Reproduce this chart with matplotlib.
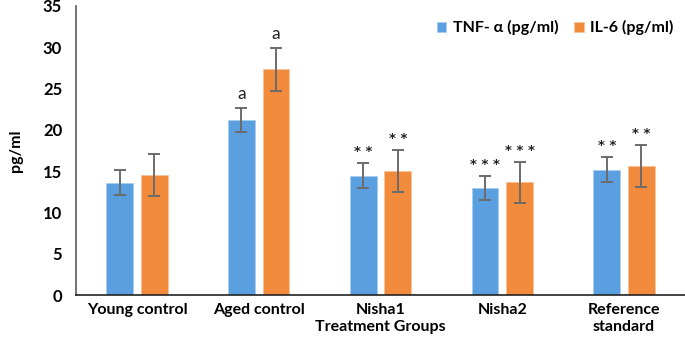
import matplotlib
matplotlib.use("Agg")
import matplotlib.pyplot as plt
import numpy as np

categories = ["Young control", "Aged control", "Nisha1", "Nisha2", "Reference\nstandard"]
tnf = [13.6, 21.2, 14.45, 13.0, 15.2]
tnf_err = [1.5, 1.5, 1.5, 1.45, 1.5]
il6 = [14.5, 27.35, 15.0, 13.65, 15.65]
il6_err = [2.55, 2.6, 2.55, 2.5, 2.55]
tnf_marks = ["", "a", "* *", "* * *", "* *"]
il6_marks = ["", "a", "* *", "* * *", "* *"]
series_names = ["TNF- α (pg/ml)", "IL-6 (pg/ml)"]

plt.rcParams['font.family'] = ['Lato', 'DejaVu Sans']

fig = plt.figure(figsize=(6.85, 3.46), dpi=100)
ax = fig.add_axes([0.111, 0.147, 0.889, 0.836])

x = np.arange(len(categories))
w = 0.221
off = 0.142
blue = "#5a9fdf"
orange = "#f28a3b"
ekw = dict(ecolor="#6b6b6b", elinewidth=1.4, capsize=4.5, capthick=1.4)
ax.bar(x - off, tnf, w, color=blue, edgecolor="#a9cdef", linewidth=0.6,
       yerr=tnf_err, error_kw=ekw, label=series_names[0], zorder=2)
ax.bar(x + off, il6, w, color=orange, edgecolor="#f7c19a", linewidth=0.6,
       yerr=il6_err, error_kw=ekw, label=series_names[1], zorder=2)

def annotate(xs, vals, errs, marks):
    for xi, v, e, m in zip(xs, vals, errs, marks):
        if not m:
            continue
        if m == "a":
            ax.text(xi, v + e + 0.7, m, ha="center", va="bottom", fontsize=12.5,
                    family=['Lato'], color="#222222")
        else:
            ax.text(xi, v + e + 0.6, m, ha="center", va="bottom", fontsize=9.5,
                    family=['DejaVu Sans'], fontweight="bold", color="#222222")

annotate(x - off, tnf, tnf_err, tnf_marks)
annotate(x + off, il6, il6_err, il6_marks)

ax.set_xlim(-0.5, 4.5)
ax.set_ylim(0, 35)
ax.set_yticks(range(0, 36, 5))
ax.set_xticks(x)
ax.set_xticklabels(categories, fontsize=11.5, fontweight="bold")
ax.tick_params(axis="both", length=0, pad=6)
ax.tick_params(axis="y", labelsize=12, pad=10)
for lab in ax.get_yticklabels():
    lab.set_fontweight("bold")
ax.set_xlabel("Treatment Groups", fontsize=11.5, fontweight="bold")
ax.xaxis.set_label_coords(0.5, -0.085)
ax.set_ylabel("pg/ml", fontsize=11.5, fontweight="bold", labelpad=14)

for s in ["top", "right"]:
    ax.spines[s].set_visible(False)
ax.spines["left"].set_color("#595959")
ax.spines["left"].set_linewidth(1.2)
ax.spines["bottom"].set_color("#222222")
ax.spines["bottom"].set_linewidth(1.2)

leg = ax.legend(loc="upper right", bbox_to_anchor=(1.005, 1.0), ncol=2, frameon=False,
                prop=dict(size=11.5, weight="bold"), handlelength=0.6, handleheight=0.6,
                handletextpad=0.4, columnspacing=1.0)
for t in leg.get_texts():
    t.set_fontweight("bold")

fig.savefig("out.png", dpi=100)
